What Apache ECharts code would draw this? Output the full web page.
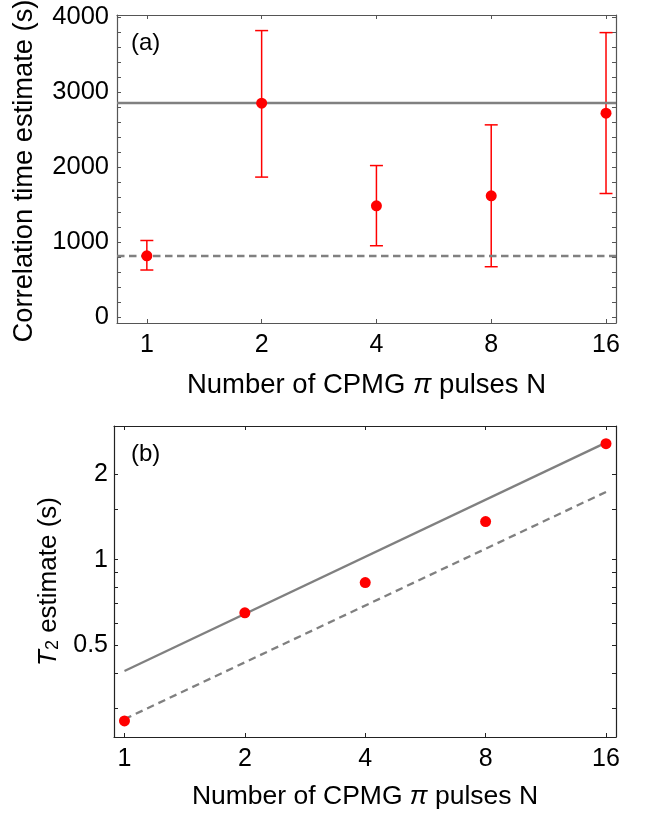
<!DOCTYPE html>
<html>
<head>
<meta charset="utf-8">
<script src="https://cdn.jsdelivr.net/npm/echarts@6/dist/echarts.min.js"></script>
<style>html,body{margin:0;padding:0;background:#fff}#c{width:651px;height:815px}</style>
</head>
<body>
<div id="c"></div>
<script>
// ---- data ----
const N = [1, 2, 4, 8, 16];
const tauEst = [817, 2853, 1484, 1617, 2720];
const tauLow = [627, 1867, 951, 671, 1648];
const tauHigh = [1021, 3822, 2021, 2564, 3795];
const tauSolid = 2853;
const tauDashed = 817;
const T2Est = [0.271, 0.650, 0.831, 1.361, 2.557];
const fitN = [1, 16];
const T2Solid = [0.406, 2.578];
const T2Dashed = [0.275, 1.73];
const xTickValues = [1, 2, 4, 8, 16];
const tauLabelValues = [0, 1000, 2000, 3000, 4000];
const tauTickValues = [0, 200, 400, 600, 800, 1000, 1200, 1400, 1600, 1800, 2000, 2200, 2400, 2600, 2800, 3000, 3200, 3400, 3600, 3800, 4000];
const T2LabelValues = [0.5, 1, 2];
const T2TickValues = [0.3, 0.4, 0.5, 0.6, 0.7, 0.8, 0.9, 1, 1.5, 2];

// ---- helpers ----
const L2 = v => Math.log2(v);
const FONT = 'Liberation Sans, Arial, sans-serif';
const RED = '#ff0000';
const GRAY = '#808080';

const topAxisColor = '#555555';
const botAxisColor = '#222222';

function xAxes(gridIndex, min, max, color, name, nameGap, titleSize, labelMargin) {
  const common = {
    type: 'value', gridIndex, min, max,
    axisLine: { show: true, onZero: false, lineStyle: { color, width: 1.2 } },
    splitLine: { show: false },
    axisTick: { show: true, inside: true, length: 4, customValues: xTickValues.map(L2), lineStyle: { color, width: 1 } }
  };
  return [
    Object.assign({}, common, {
      position: 'bottom',
      axisLabel: { show: true, customValues: xTickValues.map(L2), formatter: v => String(Math.round(Math.pow(2, v))),
        fontFamily: FONT, fontSize: 25, color: '#000', margin: labelMargin },
      name, nameLocation: 'middle', nameGap,
      nameTextStyle: { fontFamily: FONT, fontSize: titleSize, color: '#000',
        rich: { n: { fontFamily: FONT, fontSize: titleSize, color: '#000' }, i: { fontFamily: FONT, fontSize: titleSize, fontStyle: 'italic', color: '#000' } } }
    }),
    Object.assign({}, common, { position: 'top', axisLabel: { show: false } })
  ];
}

const option = {
  animation: false,
  backgroundColor: '#fff',
  grid: [
    { left: 117, top: 15, width: 499, height: 308, outerBoundsMode: 'none', containLabel: false },
    { left: 114, top: 426, width: 502, height: 311, outerBoundsMode: 'none', containLabel: false }
  ],
  xAxis: [
    ...xAxes(0, -0.26, 4.087, topAxisColor, '{n|Number of CPMG }{i|π}{n| pulses N}', 48, 27.5, 10),
    ...xAxes(1, -0.087, 4.083, botAxisColor, '{n|Number of CPMG }{i|π}{n| pulses N}', 46, 26.5, 10)
  ],
  yAxis: [
    {
      type: 'value', gridIndex: 0, min: -80, max: 4030, position: 'left',
      axisLine: { show: true, onZero: false, lineStyle: { color: topAxisColor, width: 1.2 } },
      splitLine: { show: false },
      axisTick: { show: true, inside: true, length: 4, customValues: tauTickValues, lineStyle: { color: topAxisColor } },
      axisLabel: { customValues: tauLabelValues, formatter: v => String(v), fontFamily: FONT, fontSize: 25.5, color: '#000', margin: 8 },
      name: 'Correlation time estimate (s)', nameLocation: 'middle', nameGap: 79,
      nameTextStyle: { fontFamily: FONT, fontSize: 27.3, color: '#000', padding: [0, 4, 0, 0] }
    },
    {
      type: 'value', gridIndex: 0, min: -80, max: 4030, position: 'right',
      axisLine: { show: true, onZero: false, lineStyle: { color: topAxisColor, width: 1.2 } },
      splitLine: { show: false },
      axisTick: { show: true, inside: true, length: 4, customValues: tauTickValues, lineStyle: { color: topAxisColor } },
      axisLabel: { show: false }
    },
    {
      type: 'value', gridIndex: 1, min: L2(0.238), max: L2(2.95), position: 'left',
      axisLine: { show: true, onZero: false, lineStyle: { color: botAxisColor, width: 1.2 } },
      splitLine: { show: false },
      axisTick: { show: true, inside: true, length: 4, customValues: T2TickValues.map(L2), lineStyle: { color: botAxisColor } },
      axisLabel: { customValues: T2LabelValues.map(L2), formatter: v => String(+Math.pow(2, v).toFixed(2)),
        fontFamily: FONT, fontSize: 25, color: '#000', margin: 6 },
      name: '{i|T}{s|2}{n| estimate (s)}', nameLocation: 'middle', nameGap: 48,
      nameTextStyle: { fontFamily: FONT, fontSize: 26, color: '#000',
        rich: { n: { fontFamily: FONT, fontSize: 26, color: '#000' },
                i: { fontFamily: FONT, fontSize: 26, fontStyle: 'italic', color: '#000' },
                s: { fontFamily: FONT, fontSize: 18, color: '#000', padding: [10, 0, 0, 0] } } }
    },
    {
      type: 'value', gridIndex: 1, min: L2(0.238), max: L2(2.95), position: 'right',
      axisLine: { show: true, onZero: false, lineStyle: { color: botAxisColor, width: 1.2 } },
      splitLine: { show: false },
      axisTick: { show: true, inside: true, length: 4, customValues: T2TickValues.map(L2), lineStyle: { color: botAxisColor } },
      axisLabel: { show: false }
    }
  ],
  graphic: [
    { type: 'text', left: 131, top: 31, style: { text: '(a)', font: '24px ' + FONT, fill: '#000' } },
    { type: 'text', left: 131, top: 442, style: { text: '(b)', font: '24px ' + FONT, fill: '#000' } }
  ],
  series: [
    // top panel reference lines
    {
      type: 'line', xAxisIndex: 0, yAxisIndex: 0, data: [], z: 2,
      markLine: {
        silent: true, symbol: 'none', label: { show: false },
        data: [
          { yAxis: tauSolid, lineStyle: { color: GRAY, width: 2.4, type: 'solid' } },
          { yAxis: tauDashed, lineStyle: { color: GRAY, width: 2.4, type: [7.5, 4.5] } }
        ]
      }
    },
    // error bars
    {
      type: 'custom', xAxisIndex: 0, yAxisIndex: 0, z: 4,
      data: N.map((n, i) => [L2(n), tauLow[i], tauHigh[i]]),
      encode: { x: 0, y: [1, 2] },
      renderItem: function (params, api) {
        const x = api.value(0);
        const lo = api.coord([x, api.value(1)]);
        const hi = api.coord([x, api.value(2)]);
        const w = 6.5;
        const st = { stroke: RED, lineWidth: 1.5 };
        return {
          type: 'group',
          children: [
            { type: 'line', shape: { x1: lo[0], y1: lo[1], x2: hi[0], y2: hi[1] }, style: st },
            { type: 'line', shape: { x1: lo[0] - w, y1: lo[1], x2: lo[0] + w, y2: lo[1] }, style: st },
            { type: 'line', shape: { x1: hi[0] - w, y1: hi[1], x2: hi[0] + w, y2: hi[1] }, style: st }
          ]
        };
      }
    },
    {
      type: 'scatter', xAxisIndex: 0, yAxisIndex: 0, z: 5,
      symbol: 'circle', symbolSize: 11, itemStyle: { color: RED, opacity: 1 },
      data: N.map((n, i) => [L2(n), tauEst[i]])
    },
    // bottom panel fits
    {
      type: 'line', xAxisIndex: 2, yAxisIndex: 2, z: 2, symbol: 'none',
      lineStyle: { color: GRAY, width: 2.3, type: 'solid' },
      data: fitN.map((n, i) => [L2(n), L2(T2Solid[i])])
    },
    {
      type: 'line', xAxisIndex: 2, yAxisIndex: 2, z: 2, symbol: 'none',
      lineStyle: { color: GRAY, width: 2.3, type: [7.5, 5] },
      data: fitN.map((n, i) => [L2(n), L2(T2Dashed[i])])
    },
    {
      type: 'scatter', xAxisIndex: 2, yAxisIndex: 2, z: 5,
      symbol: 'circle', symbolSize: 11, itemStyle: { color: RED, opacity: 1 },
      data: N.map((n, i) => [L2(n), L2(T2Est[i])])
    }
  ]
};

const chart = echarts.init(document.getElementById('c'), null, { renderer: 'canvas' });
chart.setOption(option);
</script>
</body>
</html>
